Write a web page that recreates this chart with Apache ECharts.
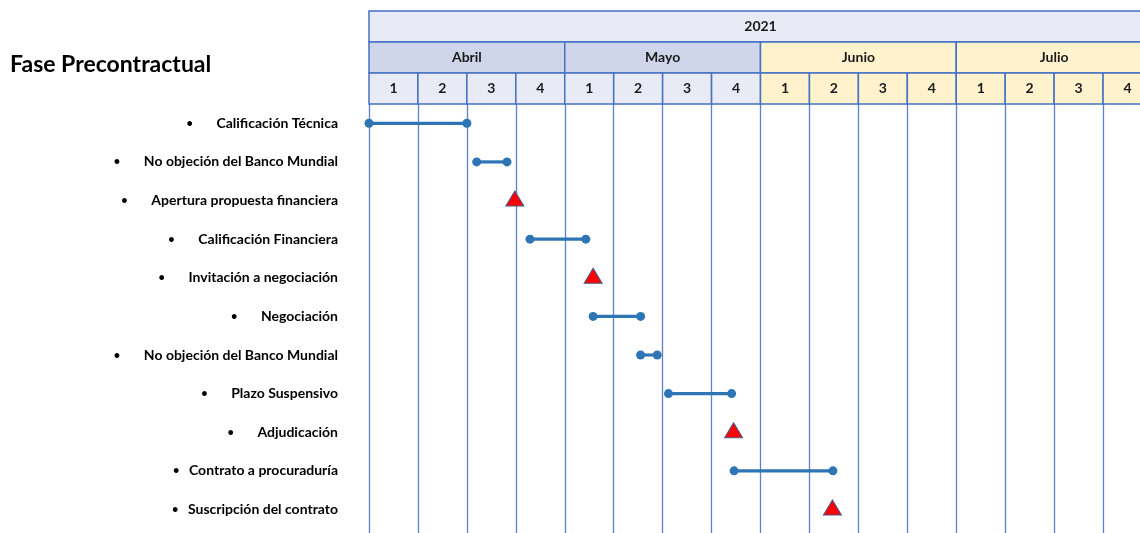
<!DOCTYPE html>
<html>
<head>
<meta charset="utf-8">
<script src="https://cdn.jsdelivr.net/npm/echarts@6/dist/echarts.min.js"></script>
<style>
  html, body { margin: 0; padding: 0; background: #ffffff; }
  #chart { width: 1140px; height: 533px; }
</style>
</head>
<body>
<div id="chart"></div>
<script>
// ---- Data ----
const title = 'Fase Precontractual';
const yearLabel = '2021';
const months = ['Abril', 'Mayo', 'Junio', 'Julio'];
const weekLabels = ['1', '2', '3', '4'];
const tasks = [
  'Calificación Técnica',
  'No objeción del Banco Mundial',
  'Apertura propuesta financiera',
  'Calificación Financiera',
  'Invitación a negociación',
  'Negociación',
  'No objeción del Banco Mundial',
  'Plazo Suspensivo',
  'Adjudicación',
  'Contrato a procuraduría',
  'Suscripción del contrato'
];
// positions in weeks from the start of April (0 = start of week 1 of April)
const startWeek = [0.00, 2.20, 2.98, 3.29, 4.58, 4.58, 5.55, 6.12, 7.45, 7.46, 9.47];
const endWeek   = [2.00, 2.82, null, 4.43, null, 5.55, 5.89, 7.41, null, 9.48, null];

// ---- Build ----
const totalWeeks = months.length * weekLabels.length;
const headerCells = [];
headerCells.push([0, totalWeeks, 0, yearLabel, 0]);
months.forEach((m, mi) => {
  const s = mi * weekLabels.length;
  headerCells.push([s, s + weekLabels.length, 1, m, mi]);
  weekLabels.forEach((w, wi) => headerCells.push([s + wi, s + wi + 1, 2, w, mi]));
});
const rangeData = [];
const milestoneData = [];
tasks.forEach((t, i) => {
  if (endWeek[i] != null) rangeData.push([startWeek[i], endWeek[i], i]);
  else milestoneData.push([startWeek[i], i]);
});
const narrowBullet = { 9: true, 10: true };

const FONT = 'Lato';
const border = '#4472c4';
function cellFill(row, mi) {
  if (row === 0) return '#e8ebf5';
  if (mi < 2) return row === 1 ? '#cfd5ea' : '#e8ebf5';
  return '#fff2cc';
}

const chart = echarts.init(document.getElementById('chart'), null, { renderer: 'canvas' });
chart.setOption({
  animation: false,
  backgroundColor: '#ffffff',
  title: {
    text: title, left: 10, top: 53, padding: 0,
    textStyle: { fontFamily: FONT, fontWeight: 'bold', fontSize: 23, color: '#000000' }
  },
  grid: [
    { left: 369, top: 104, width: 783, height: 429, outerBoundsMode: 'none', containLabel: false },
    { left: 369, top: 11, width: 783, height: 93, outerBoundsMode: 'none', containLabel: false }
  ],
  xAxis: [
    {
      gridIndex: 0, type: 'value', min: 0, max: totalWeeks, interval: 1,
      axisLine: { show: false }, axisTick: { show: false }, axisLabel: { show: false },
      splitLine: { show: true, lineStyle: { color: '#5b80cc', width: 1.3 } }
    },
    {
      gridIndex: 1, type: 'value', min: 0, max: totalWeeks, show: false
    }
  ],
  yAxis: [
    {
      gridIndex: 0, type: 'value', min: -0.5, max: 10.61, inverse: true,
      axisLine: { show: false }, axisTick: { show: false }, splitLine: { show: false },
      axisLabel: {
        customValues: tasks.map((t, i) => i),
        margin: 31,
        formatter: v => {
          const i = Math.round(v);
          return (narrowBullet[i] ? '{bs|•}' : '{b|•}') + '{t|' + tasks[i] + '}';
        },
        rich: {
          b: { width: 30, align: 'left', fontFamily: FONT, fontWeight: 'bold', fontSize: 11, color: '#000' },
          bs: { width: 16, align: 'left', fontFamily: FONT, fontWeight: 'bold', fontSize: 11, color: '#000' },
          t: { fontFamily: FONT, fontWeight: 'bold', fontSize: 14, color: '#000' }
        }
      }
    },
    {
      gridIndex: 1, type: 'value', min: 0, max: 3, inverse: true, show: false
    }
  ],
  series: [
    {
      type: 'custom', xAxisIndex: 1, yAxisIndex: 1, clip: false,
      data: headerCells,
      renderItem: (params, api) => {
        const s = api.value(0), e = api.value(1), row = api.value(2), mi = api.value(4);
        const label = headerCells[params.dataIndex][3];
        const p0 = api.coord([s, row]);
        const p1 = api.coord([e, row + 1]);
        return {
          type: 'group',
          children: [
            {
              type: 'rect',
              shape: { x: p0[0], y: p0[1], width: p1[0] - p0[0], height: p1[1] - p0[1] },
              style: { fill: cellFill(row, mi), stroke: border, lineWidth: 1.5 }
            },
            {
              type: 'text',
              style: {
                x: (p0[0] + p1[0]) / 2, y: (p0[1] + p1[1]) / 2,
                text: label, align: 'center', verticalAlign: 'middle',
                font: 'bold 14px ' + FONT, fill: '#1a1a1a'
              }
            }
          ]
        };
      }
    },
    {
      type: 'custom', xAxisIndex: 0, yAxisIndex: 0, clip: false,
      data: rangeData,
      renderItem: (params, api) => {
        const a = api.coord([api.value(0), api.value(2)]);
        const b = api.coord([api.value(1), api.value(2)]);
        const c = '#2e75b6';
        return {
          type: 'group',
          children: [
            { type: 'line', shape: { x1: a[0], y1: a[1], x2: b[0], y2: b[1] }, style: { stroke: c, lineWidth: 3.2 } },
            { type: 'circle', shape: { cx: a[0], cy: a[1], r: 4.5 }, style: { fill: c } },
            { type: 'circle', shape: { cx: b[0], cy: b[1], r: 4.5 }, style: { fill: c } }
          ]
        };
      }
    },
    {
      type: 'scatter', xAxisIndex: 0, yAxisIndex: 0,
      data: milestoneData,
      symbol: 'triangle', symbolSize: [18, 15], symbolOffset: [0, -2],
      itemStyle: { color: '#ff0000', borderColor: '#4a5a8a', borderWidth: 1, opacity: 1 }
    }
  ]
});
</script>
</body>
</html>
